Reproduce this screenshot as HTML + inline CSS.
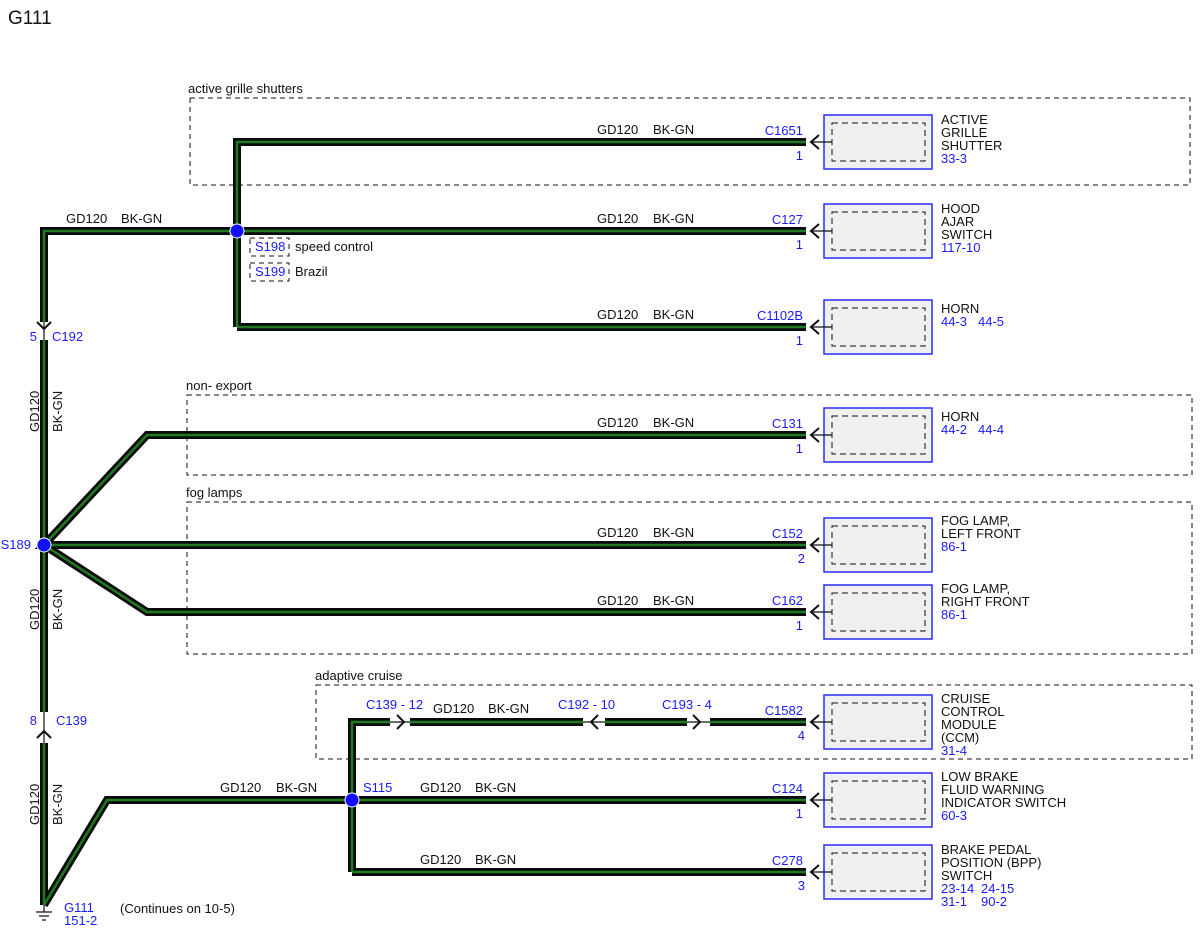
<!DOCTYPE html>
<html><head><style>
body{margin:0;background:#fff}
svg text{font-family:"Liberation Sans","DejaVu Sans",sans-serif;font-size:13px}
.b{fill:#1a1aff}
.k{fill:#111}
</style></head><body>
<svg width="1200" height="927" viewBox="0 0 1200 927" xmlns="http://www.w3.org/2000/svg">
<defs>
<g id="box">
<rect x="824" y="-27" width="108" height="54" fill="#f0f0f0" stroke="#2a2aff" stroke-width="1.5"/>
<rect x="832" y="-19" width="93" height="38" fill="none" stroke="#111" stroke-dasharray="6,4"/>
<line x1="811" y1="0" x2="832" y2="0" stroke="#111" stroke-width="1.2"/>
<path d="M819,-7 L811,0 L819,7" fill="none" stroke="#111" stroke-width="2"/>
</g>
</defs>
<text x="8" y="24" style="font-size:19px" class="k">G111</text>
<g fill="none" stroke="#111" stroke-dasharray="5,4" stroke-width="1">
<rect x="190" y="98" width="1000" height="87"/>
<rect x="187" y="395" width="1005" height="80"/>
<rect x="187" y="502" width="1005" height="152"/>
<rect x="316" y="685" width="876" height="74"/>
<rect x="250" y="238" width="39" height="18"/>
<rect x="250" y="263" width="39" height="18"/>
</g>
<text x="188" y="93" class="k">active grille shutters</text>
<text x="186" y="390" class="k">non- export</text>
<text x="186" y="497" class="k">fog lamps</text>
<text x="315" y="680" class="k">adaptive cruise</text>
<g id="wires" fill="none" stroke-linejoin="miter">
<g stroke="#0a0a0a" stroke-width="8">
<path d="M237,327 V142 H806"/>
<path d="M44,322 V231 H806"/>
<path d="M237,327 H806"/>
<path d="M44,340 V712"/>
<path d="M44,743 V905"/>
<path d="M806,435 H147 L44,545 H806 M44,545 L147,612 H806"/>
<path d="M44,905 L107,800 H806"/>
<path d="M352,872 V722 H390 M410,722 H583 M605,722 H687 M710,722 H806"/>
<path d="M352,872 H806"/>
</g>
<g stroke="#1f7a1f" stroke-width="2.5">
<path d="M237,327 V142 H806"/>
<path d="M44,322 V231 H806"/>
<path d="M237,327 H806"/>
<path d="M44,340 V712"/>
<path d="M44,743 V905"/>
<path d="M806,435 H147 L44,545 H806 M44,545 L147,612 H806"/>
<path d="M44,905 L107,800 H806"/>
<path d="M352,872 V722 H390 M410,722 H583 M605,722 H687 M710,722 H806"/>
<path d="M352,872 H806"/>
</g>
</g>
<g stroke="#111" stroke-width="1.2" fill="none">
<line x1="390" y1="722" x2="410" y2="722"/><path d="M397,715 L404,722 L397,729" stroke-width="2"/>
<line x1="583" y1="722" x2="605" y2="722"/><path d="M598,715 L591,722 L598,729" stroke-width="2"/>
<line x1="687" y1="722" x2="710" y2="722"/><path d="M693,715 L700,722 L693,729" stroke-width="2"/>
<line x1="44" y1="322" x2="44" y2="340"/><path d="M37,322 L44,329 L51,322" stroke-width="2"/>
<line x1="44" y1="712" x2="44" y2="743"/><path d="M37,738 L44,731 L51,738" stroke-width="2"/>
<path d="M44,905 V912 M36,912 H52 M39,916 H49 M42,920 H46"/>
</g>
<g fill="#1010ff" stroke="#fff" stroke-width="1">
<circle cx="237" cy="231" r="7"/><circle cx="44" cy="545" r="7"/><circle cx="352" cy="800" r="7"/>
</g>
<use href="#box" transform="translate(0,142)"/>
<use href="#box" transform="translate(0,231)"/>
<use href="#box" transform="translate(0,327)"/>
<use href="#box" transform="translate(0,435)"/>
<use href="#box" transform="translate(0,545)"/>
<use href="#box" transform="translate(0,612)"/>
<use href="#box" transform="translate(0,722)"/>
<use href="#box" transform="translate(0,800)"/>
<use href="#box" transform="translate(0,872)"/>
<g class="k">
<text x="597" y="134">GD120</text><text x="653" y="134">BK-GN</text>
<text x="597" y="223">GD120</text><text x="653" y="223">BK-GN</text>
<text x="66" y="223">GD120</text><text x="121" y="223">BK-GN</text>
<text x="597" y="319">GD120</text><text x="653" y="319">BK-GN</text>
<text x="597" y="427">GD120</text><text x="653" y="427">BK-GN</text>
<text x="597" y="537">GD120</text><text x="653" y="537">BK-GN</text>
<text x="597" y="605">GD120</text><text x="653" y="605">BK-GN</text>
<text x="433" y="713">GD120</text><text x="488" y="713">BK-GN</text>
<text x="420" y="792">GD120</text><text x="475" y="792">BK-GN</text>
<text x="220" y="792">GD120</text><text x="276" y="792">BK-GN</text>
<text x="420" y="864">GD120</text><text x="475" y="864">BK-GN</text>
<text x="295" y="251">speed control</text>
<text x="295" y="276">Brazil</text>
<text x="120" y="913">(Continues on 10-5)</text>
<text transform="translate(39,432) rotate(-90)">GD120</text>
<text transform="translate(62,432) rotate(-90)">BK-GN</text>
<text transform="translate(39,630) rotate(-90)">GD120</text>
<text transform="translate(62,630) rotate(-90)">BK-GN</text>
<text transform="translate(39,825) rotate(-90)">GD120</text>
<text transform="translate(62,825) rotate(-90)">BK-GN</text>
<text x="941" y="124">ACTIVE</text><text x="941" y="137">GRILLE</text><text x="941" y="150">SHUTTER</text>
<text x="941" y="213">HOOD</text><text x="941" y="226">AJAR</text><text x="941" y="239">SWITCH</text>
<text x="941" y="313">HORN</text>
<text x="941" y="421">HORN</text>
<text x="941" y="525">FOG LAMP,</text><text x="941" y="538">LEFT FRONT</text>
<text x="941" y="593">FOG LAMP,</text><text x="941" y="606">RIGHT FRONT</text>
<text x="941" y="703">CRUISE</text><text x="941" y="716">CONTROL</text><text x="941" y="729">MODULE</text><text x="941" y="742">(CCM)</text>
<text x="941" y="781">LOW BRAKE</text><text x="941" y="794">FLUID WARNING</text><text x="941" y="807">INDICATOR SWITCH</text>
<text x="941" y="854">BRAKE PEDAL</text><text x="941" y="867">POSITION (BPP)</text><text x="941" y="880">SWITCH</text>
</g>
<g class="b">
<text x="941" y="163">33-3</text>
<text x="941" y="252">117-10</text>
<text x="941" y="326">44-3</text><text x="978" y="326">44-5</text>
<text x="941" y="434">44-2</text><text x="978" y="434">44-4</text>
<text x="941" y="551">86-1</text>
<text x="941" y="619">86-1</text>
<text x="941" y="755">31-4</text>
<text x="941" y="820">60-3</text>
<text x="941" y="893">23-14</text><text x="981" y="893">24-15</text>
<text x="941" y="906">31-1</text><text x="981" y="906">90-2</text>
<g text-anchor="end">
<text x="803" y="135">C1651</text><text x="803" y="160">1</text>
<text x="803" y="224">C127</text><text x="803" y="249">1</text>
<text x="803" y="320">C1102B</text><text x="803" y="345">1</text>
<text x="803" y="428">C131</text><text x="803" y="453">1</text>
<text x="803" y="538">C152</text><text x="805" y="563">2</text>
<text x="803" y="605">C162</text><text x="803" y="630">1</text>
<text x="803" y="715">C1582</text><text x="805" y="740">4</text>
<text x="803" y="793">C124</text><text x="803" y="818">1</text>
<text x="803" y="865">C278</text><text x="805" y="890">3</text>
<text x="31" y="549">S189</text>
<text x="37" y="341">5</text>
<text x="37" y="725">8</text>
</g>
<text x="255" y="251">S198</text>
<text x="255" y="276">S199</text>
<text x="52" y="341">C192</text>
<text x="56" y="725">C139</text>
<text x="363" y="792">S115</text>
<text x="366" y="709">C139  - 12</text>
<text x="558" y="709">C192  - 10</text>
<text x="662" y="709">C193  - 4</text>
<text x="64" y="912">G111</text>
<text x="64" y="925">151-2</text>
</g>
</svg>
</body></html>
